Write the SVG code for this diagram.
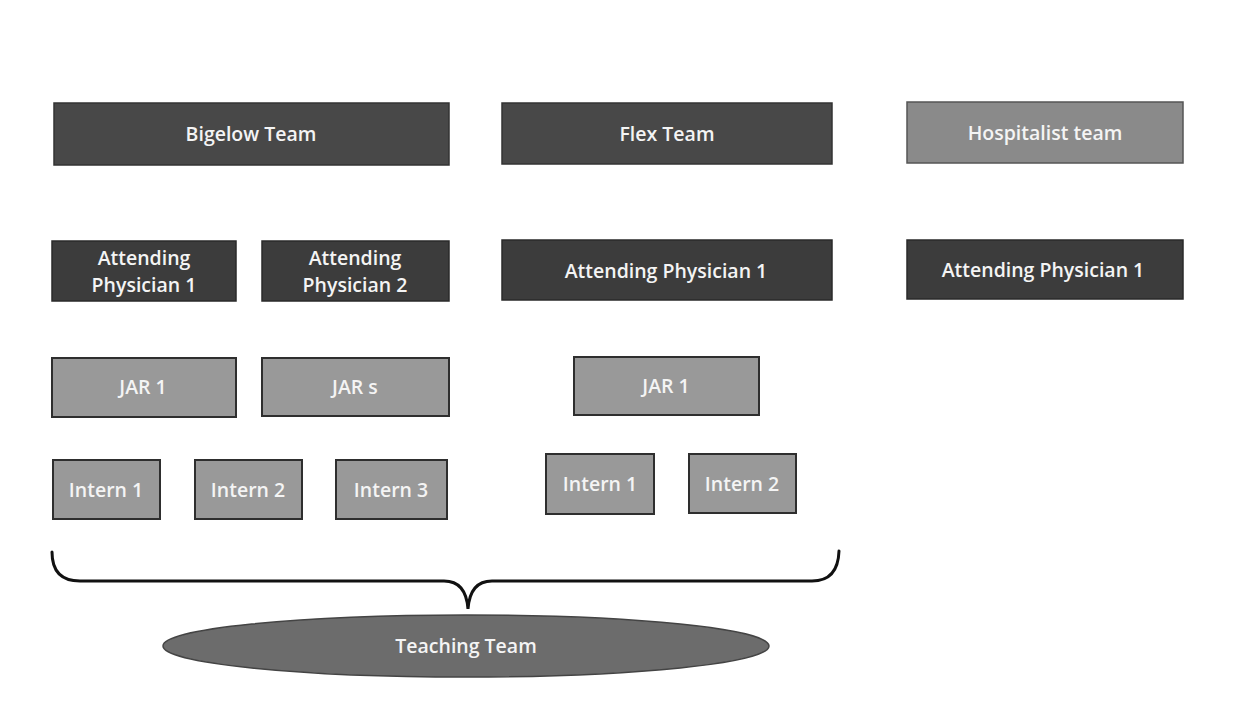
<svg xmlns="http://www.w3.org/2000/svg" width="1239" height="701" viewBox="0 0 1239 701">
<style>
.dark{fill:#484848;stroke:#333;stroke-width:1.5}
.darker{fill:#3c3c3c;stroke:#2a2a2a;stroke-width:1.5}
.mid{fill:#8a8a8a;stroke:#555;stroke-width:1.5}
.light{fill:#999;stroke:#2e2e2e;stroke-width:2}
.oval{fill:#6c6c6c;stroke:#444;stroke-width:1.5}
text{font-family:"Open Sans","Liberation Sans",sans-serif;font-weight:600;font-size:19.5px;fill:#f4f4f4;text-anchor:middle}
.conn{fill:none;stroke:#111;stroke-width:3;stroke-linecap:round}
</style>
<rect width="1239" height="701" fill="#fff"/>
<g id="bigelow-team"><rect class="dark" x="54" y="103" width="395" height="62"/><text x="251" y="141">Bigelow Team</text></g>
<g id="flex-team"><rect class="dark" x="502" y="103" width="330" height="61"/><text x="667" y="141">Flex Team</text></g>
<g id="hospitalist-team"><rect class="mid" x="907" y="102" width="276" height="61"/><text x="1045" y="140">Hospitalist team</text></g>
<g id="big-att1"><rect class="darker" x="52" y="241" width="184" height="60"/><text x="144" y="265">Attending</text><text x="144" y="292">Physician 1</text></g>
<g id="big-att2"><rect class="darker" x="262" y="241" width="187" height="60"/><text x="355" y="265">Attending</text><text x="355" y="292">Physician 2</text></g>
<g id="flex-att1"><rect class="darker" x="502" y="240" width="330" height="60"/><text x="666" y="278">Attending Physician 1</text></g>
<g id="hosp-att1"><rect class="darker" x="907" y="240" width="276" height="59"/><text x="1043" y="277">Attending Physician 1</text></g>
<g id="big-jar1"><rect class="light" x="52" y="358" width="184" height="59"/><text x="143" y="394">JAR 1</text></g>
<g id="big-jars"><rect class="light" x="262" y="358" width="187" height="58"/><text x="355" y="394">JAR s</text></g>
<g id="flex-jar1"><rect class="light" x="574" y="357" width="185" height="58"/><text x="666" y="393">JAR 1</text></g>
<g id="big-intern1"><rect class="light" x="53" y="460" width="107" height="59"/><text x="106" y="497">Intern 1</text></g>
<g id="big-intern2"><rect class="light" x="195" y="460" width="107" height="59"/><text x="248" y="497">Intern 2</text></g>
<g id="big-intern3"><rect class="light" x="336" y="460" width="111" height="59"/><text x="391" y="497">Intern 3</text></g>
<g id="flex-intern1"><rect class="light" x="546" y="454" width="108" height="60"/><text x="600" y="491">Intern 1</text></g>
<g id="flex-intern2"><rect class="light" x="689" y="454" width="107" height="59"/><text x="742" y="491">Intern 2</text></g>
<g id="connectors"><path class="conn" d="M52,552 Q52,581 80,581 L444,581 Q466,581 468,609 Q470,581 492,581 L812,581 Q838,581 839,551"/></g>
<g id="teaching-team"><ellipse class="oval" cx="466" cy="646" rx="303" ry="31"/><text x="466" y="653">Teaching Team</text></g>
</svg>
